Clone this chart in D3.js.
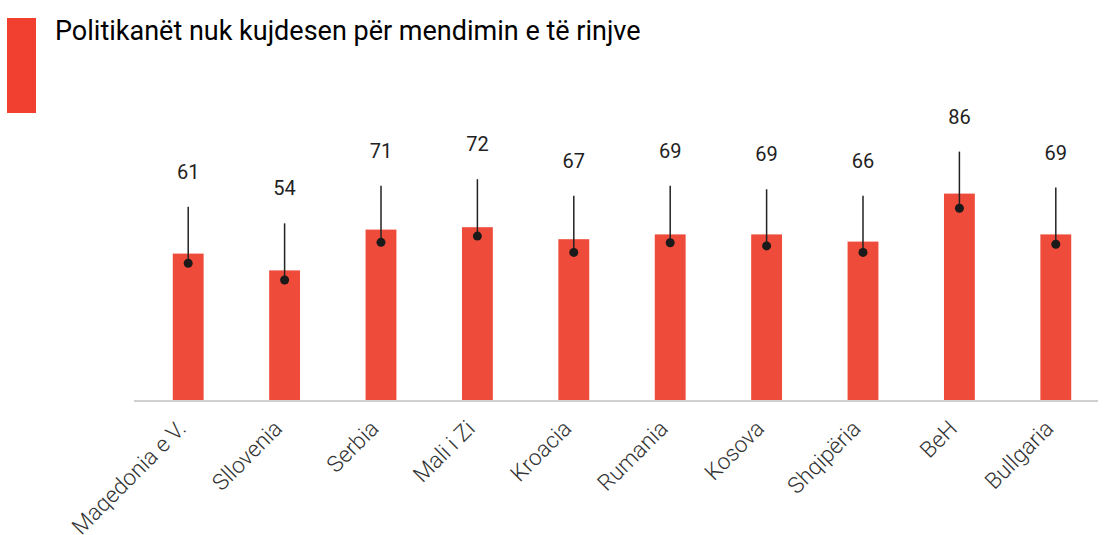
<!DOCTYPE html>
<html>
<head>
<meta charset="utf-8">
<script src="https://cdn.jsdelivr.net/npm/d3@7"></script>
<style>
    body { margin: 0; background: #fff; }
    svg { display: block; font-family: Roboto, "Noto Sans", sans-serif; }
</style>
</head>
<body>
<svg id="chart"></svg>
<script>
// Data
const categories = ['Maqedonia e V.', 'Sllovenia', 'Serbia', 'Mali i Zi', 'Kroacia',
    'Rumania', 'Kosova', 'Shqipëria', 'BeH', 'Bullgaria'];
const values = [61, 54, 71, 72, 67, 69, 69, 66, 86, 69];
const dotValues = [57, 50, 65.7, 68.3, 61.5, 65.5, 64.2, 61.5, 79.9, 64.9];
const highValues = [80.5, 73.6, 89.3, 92, 85.1, 89.3, 87.8, 85.1, 103.5, 88.5];
const title = 'Politikanët nuk kujdesen për mendimin e të rinjve';

const width = 1105;
const height = 535;

const svg = d3.select('#chart')
    .attr('width', width)
    .attr('height', height);

// Title block
svg.append('rect')
    .attr('x', 7)
    .attr('y', 18)
    .attr('width', 29)
    .attr('height', 95)
    .attr('fill', '#f13f30');

svg.append('text')
    .attr('x', 55)
    .attr('y', 40)
    .attr('font-size', 27)
    .attr('font-weight', 400)
    .attr('fill', '#000')
    .text(title);

// Scales
const x = d3.scaleBand()
    .domain(categories)
    .range([140, 1104])
    .paddingInner(0.68)
    .paddingOuter(0.34);

const y = d3.scaleLinear()
    .domain([0, 100])
    .range([400, 160]);

const rows = categories.map((c, i) => ({
    name: c, value: values[i], dot: dotValues[i], high: highValues[i]
}));

// Bars
svg.append('g')
    .selectAll('rect')
    .data(rows)
    .join('rect')
    .attr('x', d => x(d.name))
    .attr('y', d => y(d.value))
    .attr('width', x.bandwidth())
    .attr('height', d => y(0) - y(d.value))
    .attr('fill', '#ee4b3a');

// Baseline
svg.append('line')
    .attr('x1', 134)
    .attr('x2', 1098)
    .attr('y1', y(0) + 1)
    .attr('y2', y(0) + 1)
    .attr('stroke', '#d0d0d0')
    .attr('stroke-width', 2);

// Whiskers
const cx = d => x(d.name) + x.bandwidth() / 2;

svg.append('g')
    .selectAll('line')
    .data(rows)
    .join('line')
    .attr('x1', cx)
    .attr('x2', cx)
    .attr('y1', d => y(d.dot))
    .attr('y2', d => y(d.high))
    .attr('stroke', '#222')
    .attr('stroke-width', 1.5);

svg.append('g')
    .selectAll('circle')
    .data(rows)
    .join('circle')
    .attr('cx', cx)
    .attr('cy', d => y(d.dot))
    .attr('r', 4.5)
    .attr('fill', '#1a1a1a');

// Value labels
svg.append('g')
    .selectAll('text')
    .data(rows)
    .join('text')
    .attr('x', cx)
    .attr('y', d => y(d.high) - 28)
    .attr('text-anchor', 'middle')
    .attr('font-size', 20)
    .attr('fill', '#222')
    .text(d => d.value);

// Category labels (rotated)
svg.append('g')
    .selectAll('text')
    .data(rows)
    .join('text')
    .attr('transform', d => `translate(${cx(d) - 1},${y(0) + 30}) rotate(-45)`)
    .attr('text-anchor', 'end')
    .attr('font-size', 22.5)
    .attr('font-weight', 300)
    .attr('fill', '#333')
    .text(d => d.name);
</script>
</body>
</html>
